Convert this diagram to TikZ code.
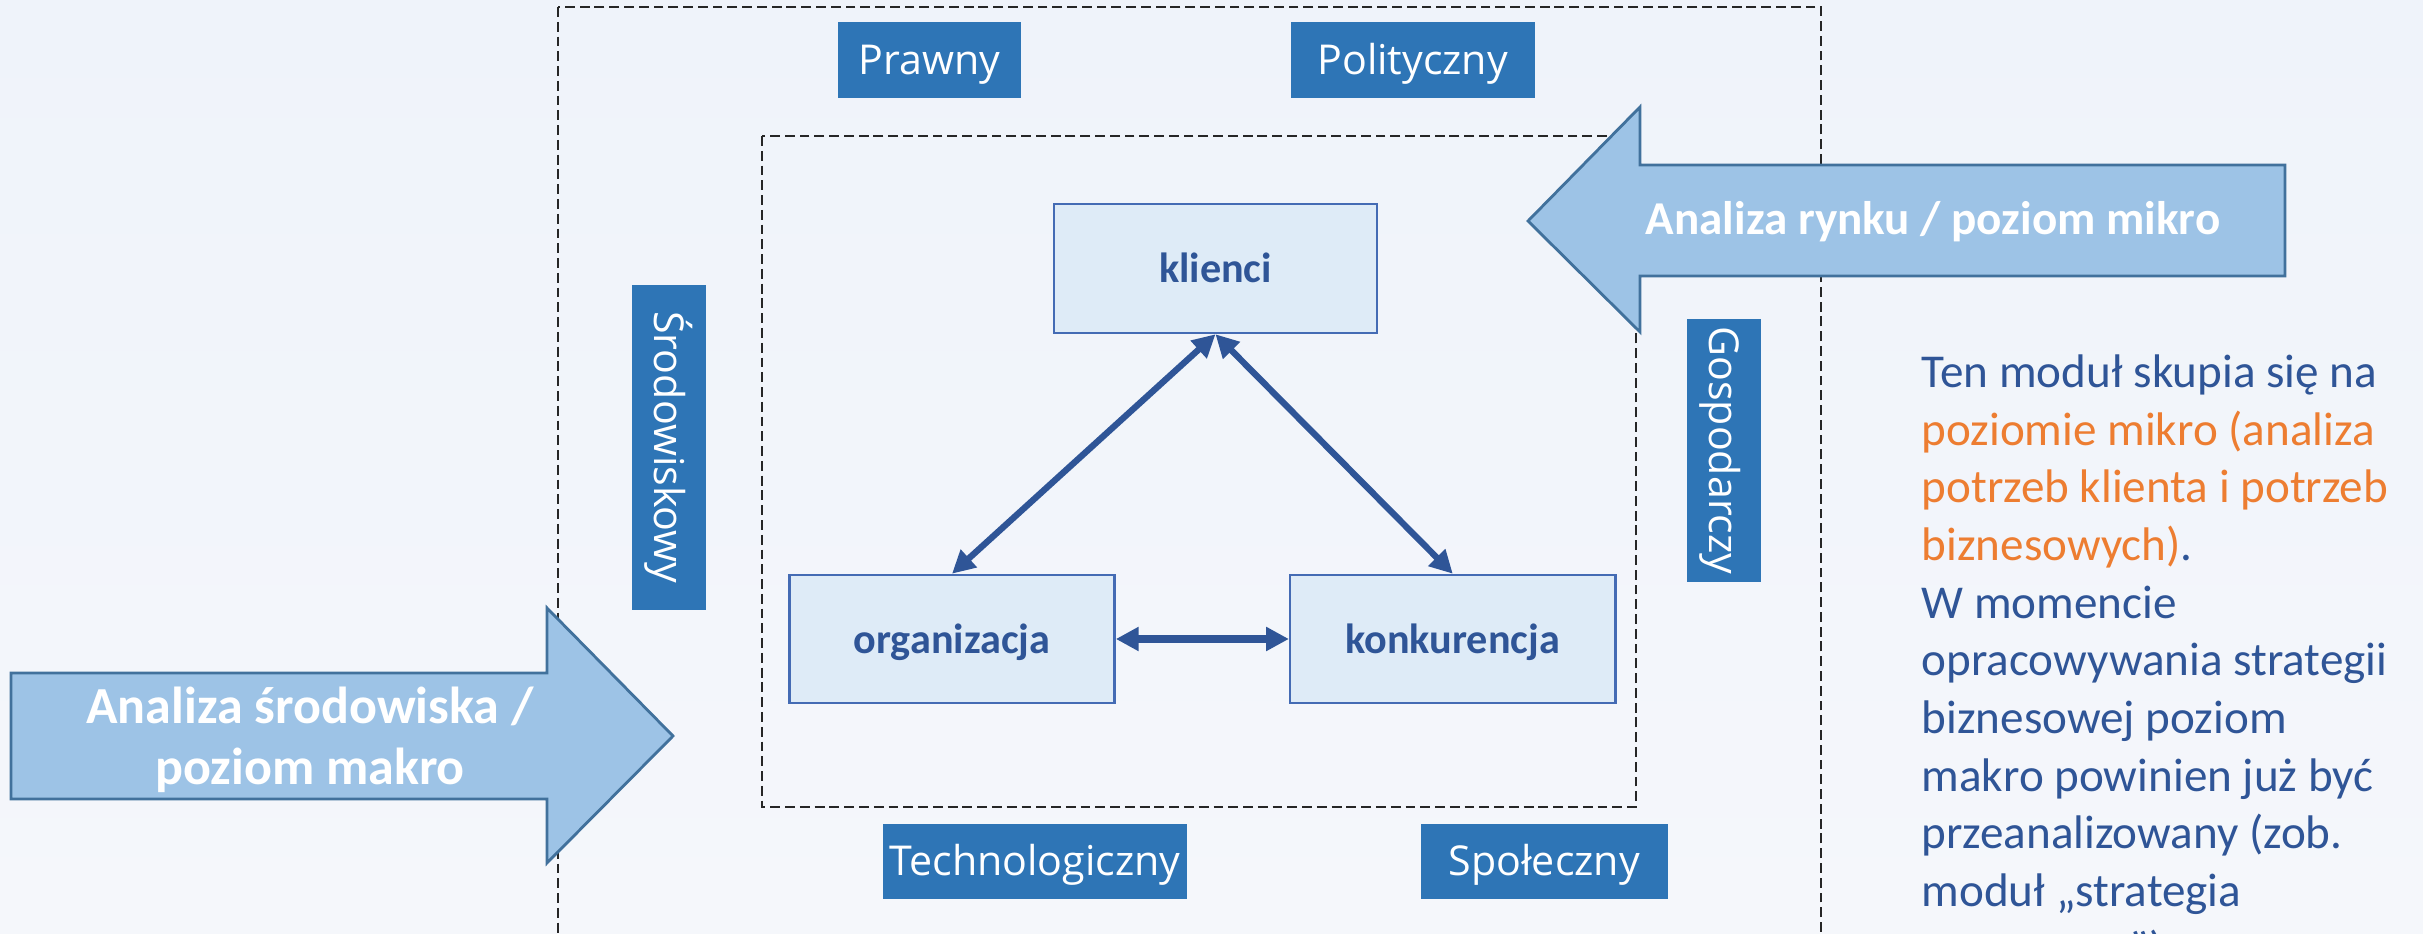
\documentclass[tikz,border=0pt]{standalone}
\usepackage{fontspec}
\setmainfont{Carlito}
\newfontfamily\labelfont{Open Sans}
\usetikzlibrary{arrows.meta, positioning}

\definecolor{bgtop}{RGB}{239,243,250}
\definecolor{bgbottom}{RGB}{245,247,251}
\definecolor{labelblue}{RGB}{46,117,182}
\definecolor{arrowfill}{RGB}{157,195,230}
\definecolor{arrowline}{RGB}{65,113,156}
\definecolor{corefill}{RGB}{222,235,247}
\definecolor{coreline}{RGB}{68,107,180}
\definecolor{darkblue}{RGB}{47,85,151}
\definecolor{accent}{RGB}{237,125,49}

\begin{document}
\begin{tikzpicture}[x=0.01cm, y=-0.01cm, >={Triangle[length=6.5pt,width=6.5pt]},
 factor node/.style={fill=labelblue, text=white, inner sep=0pt, minimum height=0.75cm,
   font=\labelfont\fontsize{11.7pt}{14pt}\selectfont, text height=9.6pt, text depth=1.6pt},
 core node/.style={draw=coreline, line width=0.7pt, fill=corefill, text=darkblue,
   inner sep=0pt, minimum width=3.25cm, minimum height=1.28cm,
   font=\bfseries\fontsize{12pt}{14pt}\selectfont, text height=10.6pt, text depth=2.4pt},
 frame/.style={draw=black!85, line width=0.6pt, dash pattern=on 2.8pt off 1.4pt},
 block arrow/.style={draw=arrowline, line width=0.8pt, fill=arrowfill},
 arrow text/.style={text=white, inner sep=0pt},
 link/.style={draw=darkblue, line width=1.8pt, <->}]
  \useasboundingbox (0,0) rectangle (2423,934);
  \clip (0,0) rectangle (2423,934);
  \shade[top color=bgtop, bottom color=bgbottom] (0,0) rectangle (2423,934);

  % frames
  \draw[frame] (558,7) rectangle (1821,990);
  \draw[frame] (762,136) rectangle (1636,807);

  % factors
  \node[factor node, minimum width=1.83cm] (prawny) at (929.5,60) {Prawny};
  \node[factor node, minimum width=2.44cm] (polityczny) [right=2.68cm of prawny] {Polityczny};
  \node[factor node, minimum width=3.04cm] (technologiczny) at (1035,861.5) {Technologiczny};
  \node[factor node, minimum width=2.47cm] (spoleczny) [right=2.32cm of technologiczny] {Społeczny};
  \node[factor node, minimum width=3.25cm, minimum height=0.74cm, rotate=-90] (srodowiskowy) at (669,447.5) {Środowiskowy};
  \node[factor node, minimum width=2.63cm, minimum height=0.74cm, rotate=-90] (gospodarczy) at (1724,450.5) {Gospodarczy};

  % market
  \node[core node, minimum width=3.23cm, minimum height=1.29cm] (klienci) at (1215.5,268.5) {klienci};
  \node[core node] (organizacja) at (952,639) {organizacja};
  \node[core node] (konkurencja) [right=1.73cm of organizacja] {konkurencja};

  \foreach \s/\t in {klienci/organizacja, klienci/konkurencja} {
   \draw[link] (\s.south) -- (\t.north);}
  \draw[link, line width=2.3pt] (organizacja) -- (konkurencja);

  % block arrows
  \draw[block arrow] (11,673) -- (547,673) -- (547,608) -- (673,736) -- (547,863)
    -- (547,799) -- (11,799) -- cycle;
  \draw[block arrow] (2285,165) -- (1640,165) -- (1640,107) -- (1528,221) -- (1640,332)
    -- (1640,276) -- (2285,276) -- cycle;
  \node[arrow text, align=center, font=\bfseries\fontsize{14.8pt}{17.4pt}\selectfont] (makro)
    at (310,740) {Analiza środowiska /\\poziom makro};
  \node[arrow text, anchor=base, font=\bfseries\fontsize{13.4pt}{16pt}\selectfont] (mikro)
    at (1933,235) {Analiza rynku / poziom mikro};

  % note
  \node[anchor=north west, align=left, inner sep=0pt, text=darkblue,
    font=\fontsize{13.4pt}{16.4pt}\selectfont] (opis) at (1921,354)
    {Ten moduł skupia się na\\
     \textcolor{accent}{poziomie mikro (analiza}\\
     \textcolor{accent}{potrzeb klienta i potrzeb}\\
     \textcolor{accent}{biznesowych)}.\\
     W momencie\\
     opracowywania strategii\\
     biznesowej poziom\\
     makro powinien już być\\
     przeanalizowany (zob.\\
     moduł „strategia\\
     \hphantom{rozwojowa}”)};
\end{tikzpicture}
\end{document}
